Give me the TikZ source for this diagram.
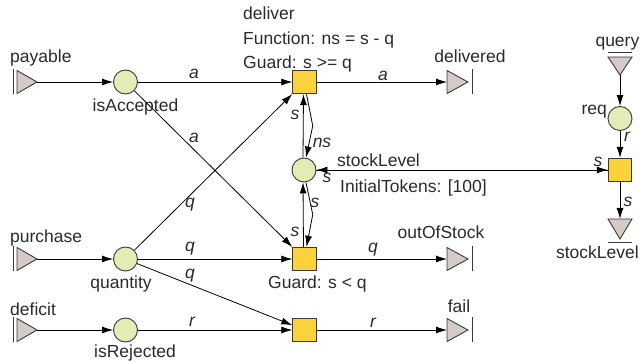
\documentclass[tikz,border=0pt]{standalone}
\usepackage{fontspec}
\setmainfont{Liberation Sans}
\usetikzlibrary{arrows.meta,calc}

\definecolor{placefill}{HTML}{E2ECB6}
\definecolor{transfill}{HTML}{F9D23C}
\definecolor{portfill}{HTML}{D4CBC8}
\definecolor{edgegray}{HTML}{3A3A3A}
\definecolor{textgray}{HTML}{2A2A2A}

% input port: bar, then a triangle pointing right; #1 names its tip
\newcommand\inport[3]{%
  \draw[portbar] (#2-24,#3-12.5) -- (#2-24,#3+12.5);
  \draw[port] (#2-20,#3-11.5) -- (#2,#3) -- (#2-20,#3+11.5) -- cycle;
  \coordinate (#1) at (#2,#3);}
% output port: triangle pointing right, then a bar; #1 names its base
\newcommand\outport[3]{%
  \draw[port] (#2,#3-11.5) -- (#2+21,#3) -- (#2,#3+11.5) -- cycle;
  \draw[portbar] (#2+25,#3-12.5) -- (#2+25,#3+12.5);
  \coordinate (#1) at (#2,#3);}

\begin{document}
\begin{tikzpicture}[x=1pt,y=-1pt,
  every node/.style={font=\fontsize{17.5}{20}\selectfont, inner sep=0pt, text=textgray},
  place/.style={circle, draw=edgegray, line width=0.9pt, fill=placefill, minimum size=24pt},
  trans/.style={rectangle, draw=edgegray, line width=0.9pt, fill=transfill, minimum size=23.5pt},
  port/.style={draw=edgegray, line width=0.9pt, fill=portfill, line join=miter},
  portbar/.style={draw=edgegray, line width=0.9pt},
  arc/.style={draw=black, line width=0.8pt, -{Latex[length=11pt,width=7pt]}},
  lbl/.style={font=\fontsize{17.5}{20}\selectfont\itshape}]

\useasboundingbox (0,0) rectangle (640,363);

% ports
\inport{payT}{37}{82}
\inport{purT}{37}{259}
\inport{defT}{37}{330}
\outport{delivIn}{447}{82}
\outport{oosIn}{447}{259}
\outport{failIn}{447}{330}

% query input (pointing down) and stockLevel output (pointing down)
\draw[portbar] (608,52) -- (632,52);
\draw[port] (608,57) -- (632,57) -- (620,75) -- cycle;
\coordinate (qryT) at (620,75);
\draw[port] (608,219) -- (632,219) -- (620,239) -- cycle;
\draw[portbar] (608,242) -- (632,242);
\coordinate (slIn) at (620,219);

% places
\node[place] (acc) at (125.5,82) {};
\node[place] (qty) at (125.5,259) {};
\node[place] (rej) at (125.5,330) {};
\node[place] (stk) at (304,170) {};
\node[place] (req) at (620,118.5) {};

% transitions
\node[trans] (dlv) at (304.5,82) {};
\node[trans] (oos) at (304.5,259) {};
\node[trans] (fl)  at (304.5,330) {};
\node[trans] (qt)  at (620,170) {};

% arcs
\draw[arc] (payT) -- (acc);
\draw[arc] (purT) -- (qty);
\draw[arc] (defT) -- (rej);
\draw[arc] (acc) -- (dlv);
\draw[arc] (acc) -- (oos);
\draw[arc] (qty) -- (dlv);
\draw[arc] (qty) -- (oos);
\draw[arc] (qty) -- (fl);
\draw[arc] (rej) -- (fl);
\draw[arc] (dlv) -- (delivIn);
\draw[arc] (oos) -- (oosIn);
\draw[arc] (fl) -- (failIn);

\draw[arc] ([xshift=-1pt]stk.north) -- ([xshift=-1pt]dlv.south);
\draw[arc] ([xshift=2pt]dlv.south) -- ($(dlv.south)!0.5!(stk.north)+(8.5,0)$) -- ([xshift=2pt]stk.north);
\draw[arc] ([xshift=-1pt]oos.north) -- ([xshift=-1pt]stk.south);
\draw[arc] ([xshift=2pt]stk.south) -- ($(stk.south)!0.5!(oos.north)+(8.5,0)$) -- ([xshift=2pt]oos.north);

\draw[arc] (stk) -- (qt);
\draw[arc] (qt) -- (stk);
\draw[arc] (qryT) -- (req);
\draw[arc] (req) -- (qt);
\draw[arc] (qt) -- (slIn);

% arc inscriptions
\node[lbl] at (194,74) {a};
\node[lbl] at (383,76) {a};
\node[lbl] at (194,138) {a};
\node[lbl] at (190,205) {q};
\node[lbl] at (190,249) {q};
\node[lbl] at (190,276) {q};
\node[lbl] at (192,322) {r};
\node[lbl] at (373,250) {q};
\node[lbl] at (373,323) {r};
\node[lbl] at (295,115) {s};
\node[lbl] at (322,143) {ns};
\node[lbl] at (327,178) {s};
\node[lbl] at (315,203) {s};
\node[lbl] at (295,232) {s};
\node[lbl] at (598,162) {s};
\node[lbl] at (627,137) {r};
\node[lbl] at (628,202) {s};

% names and inscriptions
\node[anchor=base west] at (10,63) {payable};
\node[anchor=base west] at (10,243) {purchase};
\node[anchor=base west] at (10,316) {deficit};
\node[anchor=base] at (135.5,112) {isAccepted};
\node[anchor=base] at (121,289) {quantity};
\node[anchor=base] at (135,358) {isRejected};
\node[anchor=base] at (470,63) {delivered};
\node[anchor=base] at (441,239) {outOfStock};
\node[anchor=base] at (459,313) {fail};
\node[anchor=base west] at (243,19.5) {deliver};
\node[anchor=base west] at (243,44.5) {Function: ns = s - q};
\node[anchor=base west] at (243,69) {Guard: s >= q};
\node[anchor=base west] at (268,289) {Guard: s < q};
\node[anchor=base west] at (337,167) {stockLevel};
\node[anchor=base west] at (340,193) {InitialTokens: [100]};
\node[anchor=base east] at (607,115) {req};
\node[anchor=base east] at (639.5,47) {query};
\node[anchor=base east] at (639,259) {stockLevel};
\end{tikzpicture}
\end{document}
